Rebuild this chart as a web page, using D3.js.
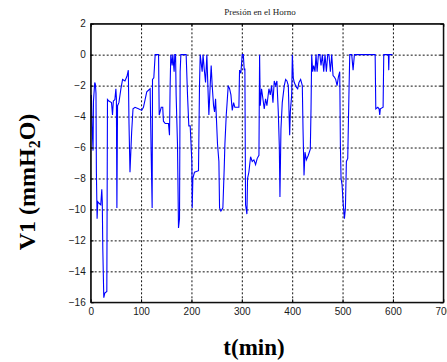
<!DOCTYPE html>
<html>
<head>
<meta charset="utf-8">
<script src="https://cdn.jsdelivr.net/npm/d3@7"></script>
<style>
  html, body { margin: 0; padding: 0; background: #fff; }
  svg { display: block; }
  .tick text { font-family: "Liberation Sans", Arial, sans-serif; font-size: 10px; fill: #1a1a1a; }
  .grid line { stroke: #111; stroke-dasharray: 2,2; }
  .grid path { display: none; }
</style>
</head>
<body>
<div id="chart"></div>
<script>
// tiempo (min) y presión V1 (mmH2O)
const tiempo = [
  0, 1.3, 2.7, 4.7, 5.5, 8, 9.3, 10.5, 11.3, 12.7, 14, 16.7, 20, 22, 23, 24, 26, 28, 32,
  33.3, 36, 41.3, 43.3, 45, 48, 50, 51, 52, 53.3, 56, 60, 63.3, 68, 72, 74.7, 76, 78,
  81.3, 84, 88, 94.7, 101.3, 104.7, 108, 111.3, 114.7, 118, 120, 122, 122.7, 125.3, 128,
  134.7, 136, 140, 143, 144.4, 148, 154.4, 156.4, 157.7, 159, 161.7, 163, 165.6, 167,
  168.5, 169.6, 172.3, 174.3, 176.3, 177.6, 179, 189.5, 192.2, 194.8, 197.5, 200.8,
  201.5, 202.8, 206, 214, 216, 217.4, 221.3, 223, 225.3, 228, 230.6, 232.6, 234.6,
  237.2, 239.2, 241.2, 243.9, 245.9, 247.9, 251.8, 254.5, 255.8, 258.5, 262.4, 265.1,
  266.4, 269.1, 270.4, 273, 275.7, 278.4, 281, 283.7, 286.2, 294.2, 295.5, 298.1,
  300.8, 303, 304.8, 306.1, 307.4, 310.1, 311.4, 314, 317.4, 320.7, 324, 327.3, 330.6,
  334, 335.3, 336.6, 339.2, 341.9, 344.5, 347.2, 349.8, 353.8, 356.5, 359.1, 361.8,
  364.4, 367.1, 369.7, 372.4, 374.4, 375.7, 377.7, 380.3, 384.3, 387, 389.6, 392.3,
  395, 396.3, 399, 400.3, 402.2, 404.2, 408.2, 410.9, 413.5, 416.8, 420.1, 421.5,
  423.5, 425.4, 428.1, 432, 436, 437.4, 438.7, 440.7, 442.7, 445.3, 447.3, 449.5, 452,
  455, 457.2, 459.9, 462.6, 465.2, 467.9, 470.5, 473, 475.8, 478.5, 481.1, 483.8,
  486.4, 489.1, 491.7, 494.4, 495.7, 497, 499, 501, 503.7, 505.7, 507.6, 510.3, 513,
  514.3, 518.2, 520.9, 523.5, 564.7, 566, 570, 572.5, 573.8, 575, 580.5, 581.8, 591,
  591.7, 592.4, 599
];
const presion = [
  -2.8, -2.6, -4.6, -6.2, -3.0, -1.8, -1.9, -2.5, -7.6, -10.6, -9.5, -9.6, -9.7, -8.7, -9.5, -12.5, -15.7, -15.4, -15.3,
  -2.9, -3.0, -3.1, -3.9, -3.0, -2.9, -2.2, -2.8, -9.9, -3.3, -3.1, -2.2, -1.6, -1.7, -1.4, -1.0, -4.4, -7.6,
  -5.0, -3.5, -3.4, -3.5, -3.6, -3.4, -2.9, -2.4, -2.3, -2.2, -6.3, -9.9, -1.6, -1.5, 0,
  0, -3.9, -3.4, -3.4, -4.3, -4.45, -4.45, -5.2, -2.0, 0, -0.7, 0, -1.1, 0,
  0, -2.6, -5.8, -11.2, -10.6, -1.1, 0, 0, -2.6, -4.6, -4.6, -6.9,
  -9.9, -8.0, -7.6, -7.5, -2.0, 0, -1.1, 0, -0.9, -1.8, 0, -2.0, -3.9,
  -2.0, -0.7, -2.0, -3.3, -3.7, -2.85, -5.8, -6.9, -9.9, -10.1, -9.9, -7.3,
  -5.8, -3.9, -3.3, -2.0, -2.2, -2.6, -3.6, -3.1, -3.4, -3.4, -1.0, -1.2,
  0, 0, -1.0, -0.9, -9.7, -10.3, -8.0, -7.6, -6.6, -6.9, -6.8, -7.1, -6.7,
  -6.5, 0, -3.3, -2.2, -2.85, -3.5, -2.85, -3.3, -2.2, -2.6, -2.0, -3.1,
  -1.7, -2.0, -1.7, -3.7, -5.85, -9.2, -4.8, -3.1, -2.0, -1.6, -1.7, -2.0,
  -5.2, -3.7, -2.6, 0, -1.5, -1.8, -2.1, -2.2, -1.8, -1.6, -2.0, -4.8,
  -7.8, -6.3, -6.8, -6.5, -6.1, -3.5, 0, -1.1, -0.7, -1.1, 0, -1.1, 0,
  0, -0.7, 0, -1.1, 0, -1.1, 0, 0, -1.1, 0, -1.35, -1.45,
  -1.6, -2.0, -1.45, -1.1, -5.85, -8.0, -8.4, -9.5, -10.6, -9.9, -6.9, -6.7, -2.0,
  0, 0, -1.0, 0, 0, -3.5, -3.4, -3.5, -3.9, -3.5, -3.4, 0, 0,
  -1.0, 0, 0
];
const xTicks = [0, 100, 200, 300, 400, 500, 600, 700];
const yTicks = [-16, -14, -12, -10, -8, -6, -4, -2, 0, 2];

const titulo = 'Presión en el Horno';

const width = 447;
const height = 362;
const margin = { top: 23.7, right: 3.7, bottom: 59.7, left: 90.7 };
const w = width - margin.left - margin.right;
const h = height - margin.top - margin.bottom;

const svg = d3.select('#chart').append('svg')
  .attr('width', width)
  .attr('height', height)
  .attr('viewBox', `0 0 ${width} ${height}`);

const g = svg.append('g')
  .attr('transform', `translate(${margin.left},${margin.top})`);

const x = d3.scaleLinear().domain([0, 700]).range([0, w]);
const y = d3.scaleLinear().domain([-16, 2]).range([h, 0]);

// rejilla punteada
g.append('g')
  .attr('class', 'grid')
  .attr('transform', `translate(0,${h})`)
  .call(d3.axisBottom(x).tickValues(xTicks.slice(1, -1)).tickSize(-h).tickFormat(''));
g.append('g')
  .attr('class', 'grid')
  .call(d3.axisLeft(y).tickValues(yTicks.slice(1, -1)).tickSize(-w).tickFormat(''));

// serie
const data = tiempo.map((t, i) => ({ t, v: presion[i] }));
svg.append('clipPath').attr('id', 'clip')
  .append('rect').attr('width', w).attr('height', h);

const line = d3.line()
  .x(d => x(d.t))
  .y(d => y(d.v));

g.append('path')
  .datum(data)
  .attr('clip-path', 'url(#clip)')
  .attr('fill', 'none')
  .attr('stroke', '#0000ff')
  .attr('stroke-width', 1.1)
  .attr('d', line);

// ejes con marcas hacia dentro (estilo MATLAB)
g.append('g')
  .attr('transform', `translate(0,${h})`)
  .call(d3.axisBottom(x).tickValues(xTicks).tickSizeInner(-3).tickSizeOuter(0).tickPadding(6));
g.append('g')
  .call(d3.axisLeft(y).tickValues(yTicks).tickSizeInner(-3).tickSizeOuter(0).tickPadding(5));
g.append('g')
  .call(d3.axisTop(x).tickValues(xTicks).tickSizeInner(-3).tickSizeOuter(0).tickFormat(''));
g.append('g')
  .attr('transform', `translate(${w},0)`)
  .call(d3.axisRight(y).tickValues(yTicks).tickSizeInner(-3).tickSizeOuter(0).tickFormat(''));

g.selectAll('.domain').attr('stroke', '#000');
g.selectAll('.tick line').attr('stroke', '#000');

g.append('rect')
  .attr('width', w)
  .attr('height', h)
  .attr('fill', 'none')
  .attr('stroke', '#000')
  .attr('stroke-width', 1);

// textos
svg.append('text')
  .attr('x', 260)
  .attr('y', 15)
  .attr('text-anchor', 'middle')
  .style('font-family', '"Liberation Serif", "Times New Roman", serif')
  .style('font-size', '9px')
  .style('fill', '#222')
  .text(titulo);

svg.append('text')
  .attr('x', 254)
  .attr('y', 355)
  .attr('text-anchor', 'middle')
  .style('font-family', '"Liberation Serif", "Times New Roman", serif')
  .style('font-size', '23px')
  .style('font-weight', 'bold')
  .text('t(min)');

const yl = svg.append('text')
  .attr('transform', 'translate(35,182) rotate(-90)')
  .attr('text-anchor', 'middle')
  .style('font-family', '"Liberation Serif", "Times New Roman", serif')
  .style('font-size', '24px')
  .style('font-weight', 'bold');
yl.append('tspan').text('V1 (mmH');
yl.append('tspan').attr('dy', 5).style('font-size', '16px').text('2');
yl.append('tspan').attr('dy', -5).text('O)');
</script>
</body>
</html>
